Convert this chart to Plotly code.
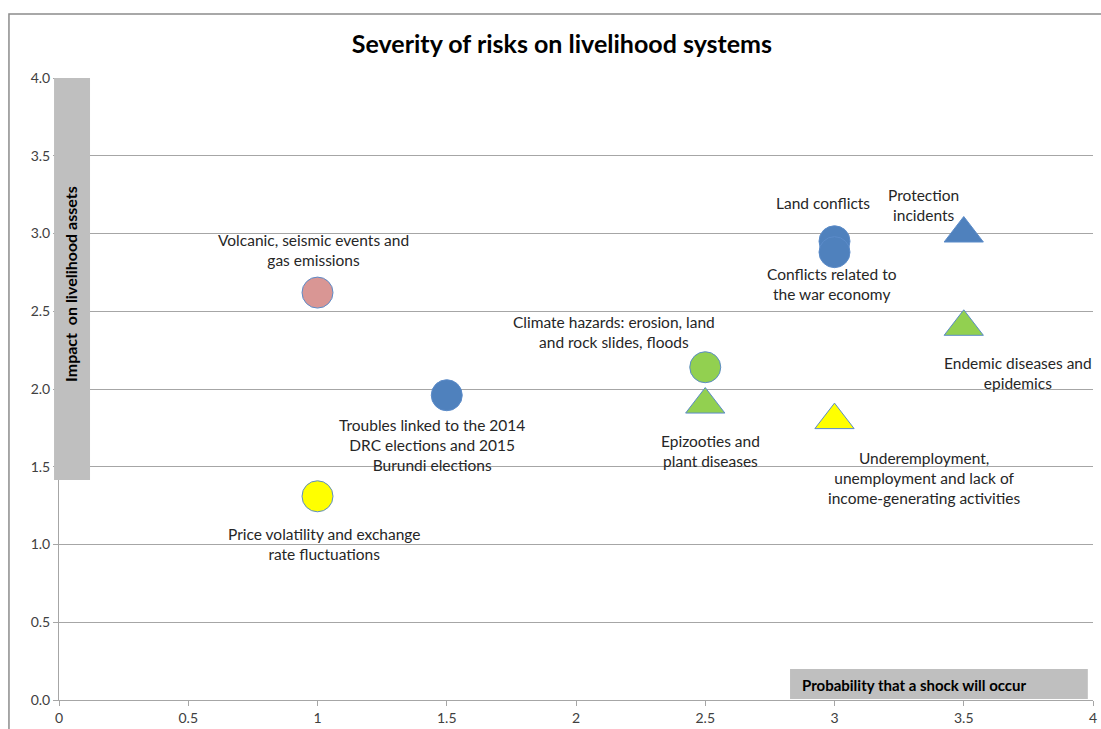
import plotly.graph_objects as go

# ---- data ----
risk_labels = [
    "Volcanic, seismic events and<br>gas emissions",
    "Troubles linked to the 2014<br>DRC elections and 2015<br>Burundi elections",
    "Price volatility and exchange<br>rate fluctuations",
    "Climate hazards: erosion, land<br>and rock slides, floods",
    "Epizooties and<br>plant diseases",
    "Land conflicts",
    "Conflicts related to<br>the war economy",
    "Protection<br>incidents",
    "Endemic diseases and<br>epidemics",
    "Underemployment,<br>unemployment and lack of<br>income-generating activities",
]
probability = [1.0, 1.5, 1.0, 2.5, 2.5, 3.0, 3.0, 3.5, 3.5, 3.0]
impact = [2.62, 1.96, 1.31, 2.14, 1.90, 2.95, 2.88, 3.00, 2.40, 1.80]

# ---- styles ----
fill_colors = ["#D99694", "#4F81BD", "#FFFF00", "#92D050", "#92D050",
               "#4F81BD", "#4F81BD", "#4F81BD", "#92D050", "#FFFF00"]
symbols = ["circle", "circle", "circle", "circle", "triangle-up",
           "circle", "circle", "triangle-up", "triangle-up", "triangle-up"]
sizes = [31 if s == "circle" else 34 for s in symbols]
label_xshift = [-4, -15, 6, -91, 5, -12, -3, -40, 54, 90]
label_yshift = [43, -50, -48, 35, -46, 38, -32, 29, -46, -58]

x_ticks = [0, 0.5, 1, 1.5, 2, 2.5, 3, 3.5, 4]
x_ticktext = ["0", "0.5", "1", "1.5", "2", "2.5", "3", "3.5", "4"]

FONT = "Lato, 'Open Sans', sans-serif"

fig = go.Figure()
fig.add_trace(go.Scatter(
    x=probability, y=impact, mode="markers",
    marker=dict(color=fill_colors, symbol=symbols, size=sizes, opacity=1,
                line=dict(color="#5B8BC9", width=1)),
    opacity=1,
    hoverinfo="skip", showlegend=False, cliponaxis=False,
))

annotations = []
for lab, px, py, dx, dy in zip(risk_labels, probability, impact, label_xshift, label_yshift):
    annotations.append(dict(
        x=px, y=py, xref="x", yref="y", text=lab, showarrow=False,
        xshift=dx, yshift=dy, xanchor="center", yanchor="middle",
        align="center", font=dict(family=FONT, size=15.5, color="#262626"),
    ))

# y-axis title on grey bar
annotations.append(dict(
    x=0.0116, y=0.669, xref="paper", yref="paper",
    text="<b>Impact  on livelihood assets</b>", textangle=-90, showarrow=False,
    xanchor="center", yanchor="middle",
    font=dict(family=FONT, size=16, color="#000000"),
))
# x-axis title in grey box
annotations.append(dict(
    x=0.7166, y=0.0241, xref="paper", yref="paper",
    text="<b>Probability that a shock will occur</b>", showarrow=False,
    xanchor="left", yanchor="middle",
    font=dict(family=FONT, size=15, color="#000000"),
))

shapes = [
    # outer chart border
    dict(type="rect", xref="paper", yref="paper", x0=-0.0484, x1=1.2, y0=-0.2, y1=1.1029,
         line=dict(color="#8C8C8C", width=1.5), fillcolor="rgba(0,0,0,0)", layer="below"),
    # grey bar behind the y title
    dict(type="rect", xref="paper", yref="paper", x0=-0.0048, x1=0.030, y0=0.3537, y1=1.0,
         line=dict(width=0), fillcolor="#BFBFBF", layer="above"),
    # grey box behind the x title
    dict(type="rect", xref="paper", yref="paper", x0=0.707, x1=0.995, y0=0.0016, y1=0.0498,
         line=dict(width=0), fillcolor="#BFBFBF", layer="above"),
]

fig.update_layout(
    width=1101, height=729,
    margin=dict(l=59, r=8, t=78, b=29, autoexpand=False),
    paper_bgcolor="white", plot_bgcolor="white",
    title=dict(text="<b>Severity of risks on livelihood systems</b>",
               x=0.5104, xanchor="center", y=1 - 44 / 729, yanchor="middle",
               font=dict(family=FONT, size=25, color="#000000")),
    xaxis=dict(range=[0, 4], tickvals=x_ticks, ticktext=x_ticktext, automargin=False,
               showgrid=False, zeroline=False, showline=True, linecolor="#A6A6A6",
               linewidth=1, ticks="outside", ticklen=5, tickcolor="#A6A6A6",
               tickfont=dict(family=FONT, size=14, color="#404040"), fixedrange=True),
    yaxis=dict(range=[0, 4], dtick=0.5, tickformat=".1f", automargin=False,
               showgrid=True, gridcolor="#A6A6A6", gridwidth=1, zeroline=False,
               showline=True, linecolor="#A6A6A6", linewidth=1,
               ticks="outside", ticklen=5, tickcolor="#A6A6A6",
               tickfont=dict(family=FONT, size=14, color="#404040"), fixedrange=True),
    annotations=annotations,
    shapes=shapes,
)

fig.write_html("out.html")
